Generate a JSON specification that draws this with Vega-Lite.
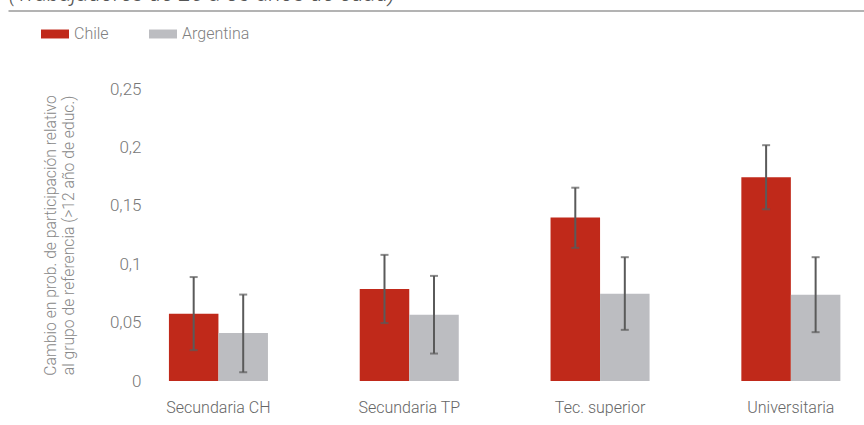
{
  "$schema": "https://vega.github.io/schema/vega-lite/v6.json",
  "width": 856,
  "height": 292,
  "autosize": {"type": "none"},
  "padding": {"left": 8, "top": 89, "right": 0, "bottom": 44},
  "background": "white",
  "config": {
    "view": {"stroke": null},
    "font": "Roboto, sans-serif",
    "locale": {"number": {"decimal": ",", "thousands": ".", "grouping": [3], "currency": ["$", ""]}},
    "legend": {"labelFont": "Roboto", "labelFontWeight": 300},
    "axis": {"labelFont": "Roboto", "labelFontWeight": 300, "titleFont": "Roboto", "titleFontWeight": 300},
    "axisY": {"grid": false, "domain": false, "ticks": false, "labelFontSize": 17, "labelColor": "#777777", "labelPadding": 4, "offset": -137, "titleFontSize": 15.7, "titleColor": "#888888", "titlePadding": 33, "titleLineHeight": 18}
  },
  "data": {
    "values": [
      {"nivel": "Secundaria CH", "pais": "Chile", "valor": 0.0576, "lo": 0.0264, "hi": 0.089},
      {"nivel": "Secundaria CH", "pais": "Argentina", "valor": 0.0412, "lo": 0.0075, "hi": 0.074},
      {"nivel": "Secundaria TP", "pais": "Chile", "valor": 0.0788, "lo": 0.0496, "hi": 0.108},
      {"nivel": "Secundaria TP", "pais": "Argentina", "valor": 0.0567, "lo": 0.0235, "hi": 0.09},
      {"nivel": "Tec. superior", "pais": "Chile", "valor": 0.140, "lo": 0.114, "hi": 0.1655},
      {"nivel": "Tec. superior", "pais": "Argentina", "valor": 0.0747, "lo": 0.0438, "hi": 0.106},
      {"nivel": "Universitaria", "pais": "Chile", "valor": 0.1744, "lo": 0.147, "hi": 0.2019},
      {"nivel": "Universitaria", "pais": "Argentina", "valor": 0.0739, "lo": 0.0418, "hi": 0.106}
    ]
  },
  "resolve": {"axis": {"x": "independent"}},
  "layer": [
    {
      "mark": {"type": "bar"},
      "encoding": {
        "x": {"field": "nivel", "type": "nominal", "sort": null,
              "scale": {"paddingInner": 0.481, "paddingOuter": 0.4836, "align": 0.872},
              "axis": {"orient": "bottom", "title": null, "domain": false, "ticks": false, "labelAngle": 0, "labelFontSize": 16, "labelColor": "#666666", "labelPadding": 18}},
        "xOffset": {"field": "pais", "type": "nominal", "sort": ["Chile", "Argentina"], "scale": {"paddingInner": 0, "paddingOuter": 0}},
        "y": {"field": "valor", "type": "quantitative",
              "scale": {"domain": [0, 0.25], "nice": false},
              "axis": {"values": [0, 0.05, 0.1, 0.15, 0.2, 0.25], "format": "~g",
                       "title": ["Cambio en prob. de participación relativo", "al grupo de referencia (>12 año de educ.)"]}},
        "color": {"field": "pais", "type": "nominal", "sort": ["Chile", "Argentina"],
                  "scale": {"domain": ["Chile", "Argentina"], "range": ["#C0291A", "#BCBDC1"]},
                  "legend": {"title": null, "orient": "none", "direction": "horizontal", "legendX": 33, "legendY": -69,
                             "symbolType": "M-1,-0.32L1,-0.32L1,0.32L-1,0.32Z", "symbolSize": 784, "symbolStrokeWidth": 0,
                             "labelFontSize": 16, "labelColor": "#808080", "columnPadding": 40, "labelOffset": 5}}
      }
    },
    {
      "mark": {"type": "rule", "color": "#5a5a5a", "strokeWidth": 2},
      "encoding": {
        "x": {"field": "nivel", "type": "nominal", "sort": null,
              "axis": {"orient": "top", "offset": 78.5, "labels": false, "ticks": false, "domain": true, "domainColor": "#9a9a9a", "domainWidth": 1.5,
                       "title": "(Trabajadores de 25 a 30 años de edad)", "titleAnchor": "start", "titleFontStyle": "italic", "titleFontSize": 23, "titleColor": "#555555", "titlePadding": 5}},
        "xOffset": {"field": "pais", "type": "nominal", "sort": ["Chile", "Argentina"]},
        "y": {"field": "lo", "type": "quantitative", "axis": {"values": [0, 0.05, 0.1, 0.15, 0.2, 0.25], "format": "~g", "title": ["Cambio en prob. de participación relativo", "al grupo de referencia (>12 año de educ.)"]}},
        "y2": {"field": "hi"}
      }
    },
    {
      "mark": {"type": "tick", "color": "#5a5a5a", "thickness": 2, "size": 8},
      "encoding": {
        "x": {"field": "nivel", "type": "nominal", "sort": null, "axis": null},
        "xOffset": {"field": "pais", "type": "nominal", "sort": ["Chile", "Argentina"]},
        "y": {"field": "lo", "type": "quantitative", "axis": {"values": [0, 0.05, 0.1, 0.15, 0.2, 0.25], "format": "~g", "title": ["Cambio en prob. de participación relativo", "al grupo de referencia (>12 año de educ.)"]}}
      }
    },
    {
      "mark": {"type": "tick", "color": "#5a5a5a", "thickness": 2, "size": 8},
      "encoding": {
        "x": {"field": "nivel", "type": "nominal", "sort": null, "axis": null},
        "xOffset": {"field": "pais", "type": "nominal", "sort": ["Chile", "Argentina"]},
        "y": {"field": "hi", "type": "quantitative", "axis": {"values": [0, 0.05, 0.1, 0.15, 0.2, 0.25], "format": "~g", "title": ["Cambio en prob. de participación relativo", "al grupo de referencia (>12 año de educ.)"]}}
      }
    }
  ]
}
